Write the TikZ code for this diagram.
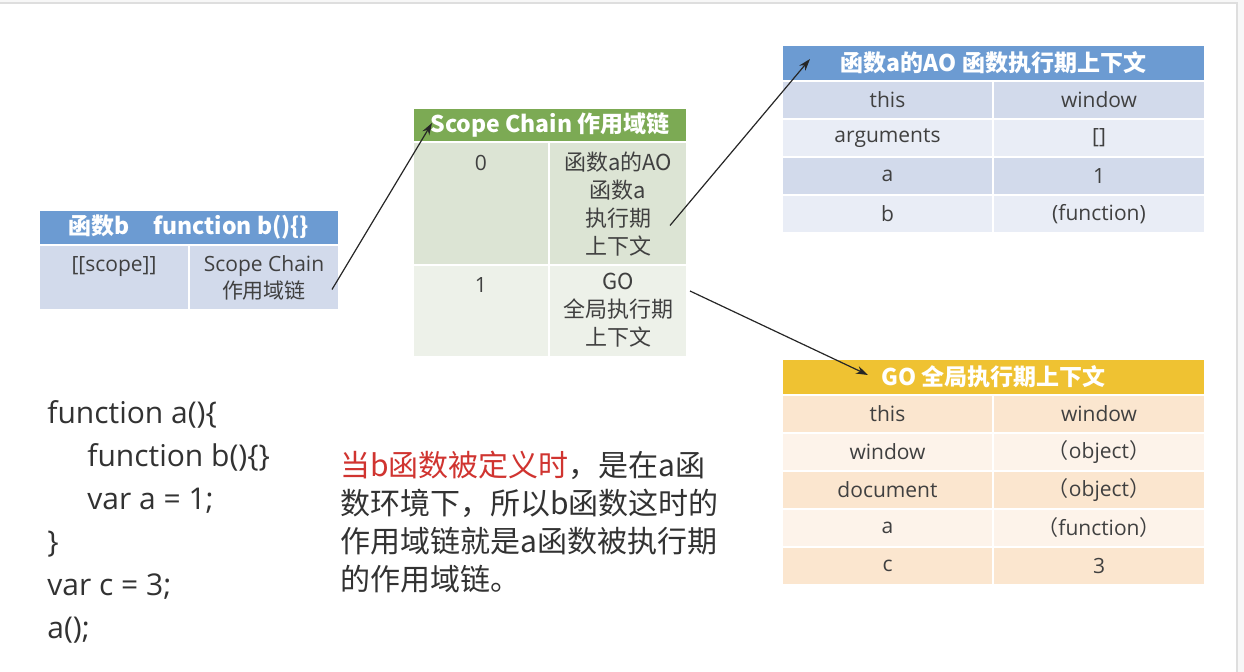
\documentclass[tikz,border=0pt]{standalone}
\usepackage{fontspec}
\setmainfont{Open Sans}
\newfontfamily\cjk{Noto Sans CJK SC}
\usetikzlibrary{arrows.meta, positioning, calc}
\definecolor{hdblue}{RGB}{108,155,210}
\definecolor{rowblue}{RGB}{210,218,235}
\definecolor{rowbluel}{RGB}{233,237,246}
\definecolor{hdgreen}{RGB}{124,170,84}
\definecolor{rowgreen}{RGB}{220,228,212}
\definecolor{rowgreenl}{RGB}{237,241,233}
\definecolor{hdgold}{RGB}{239,194,50}
\definecolor{rowgold}{RGB}{251,230,207}
\definecolor{rowgoldl}{RGB}{253,243,234}
\definecolor{txtgray}{RGB}{64,64,64}
\definecolor{codegray}{RGB}{50,50,50}
\definecolor{notered}{RGB}{208,52,48}
\definecolor{framegray}{RGB}{222,222,222}
\newcommand\fwpar[1]{{\cjk （}#1{\cjk ）}}

\begin{document}
\begin{tikzpicture}[x=0.5pt, y=-0.5pt,
    cell/.style={draw=white, line width=1pt, inner sep=0pt, anchor=north west,
                 text=txtgray, align=center, font=\fontsize{10.5}{13.5}\selectfont},
    hd/.style={cell, text=white, font=\cjk\bfseries\fontsize{11.5}{14}\selectfont},
    ctxt/.style={inner sep=0pt, anchor=north, align=center, text=txtgray,
                 font=\fontsize{10.5}{13.5}\selectfont},
    cjktxt/.style={ctxt, font=\cjk\fontsize{11}{14}\selectfont},
    code/.style={inner sep=0pt, anchor=base west, text=codegray, font=\fontsize{15}{18}\selectfont},
    arr/.style={-{Stealth[length=6pt,width=4pt]}, line width=0.6pt, black!85}]
    \useasboundingbox (0,0) rectangle (1244,672);
    \fill[black!3] (0,0) rectangle (1244,672);
    \fill[white, draw=framegray, line width=1pt] (-2,3) rectangle (1237,674);

    \node[hd, fill=hdblue, minimum width=150pt, minimum height=17.5pt] (bhd) at (38,209)
        {函数b\quad function b()\{\}};
    \node[cell, fill=rowblue, minimum width=75pt, minimum height=32.5pt] (bkey) at (38,244) {};
    \node[cell, fill=rowblue, minimum width=75pt, minimum height=32.5pt] (bval) at (188,244)
        {Scope Chain\\{\cjk 作用域链}};
    \node[ctxt] (bkeyt) at ($(bkey.north)+(0,12)$) {[[scope]]};

    \node[hd, fill=hdgreen, minimum width=137pt, minimum height=17pt] (schd) at (412,107)
        {Scope Chain 作用域链};
    \node[cell, fill=rowgreen, minimum width=68pt, minimum height=61.5pt] (s0k) at (412,141) {};
    \node[cell, fill=rowgreen, minimum width=69pt, minimum height=61.5pt] (s0v) at (548,141) {};
    \node[cell, fill=rowgreenl, minimum width=68pt, minimum height=46pt] (s1k) at (412,264) {};
    \node[cell, fill=rowgreenl, minimum width=69pt, minimum height=46pt] (s1v) at (548,264) {};
    \node[ctxt] (s0kt) at ($(s0k.north)+(0,14)$) {0};
    \node[cjktxt] (s0vt) at ($(s0v.north)+(0,11)$) {函数a的AO\\函数a\\执行期\\上下文};
    \node[ctxt] (s1kt) at ($(s1k.north)+(0,13)$) {1};
    \node[cjktxt] (s1vt) at ($(s1v.north)+(0,9)$) {GO\\全局执行期\\上下文};

    \node[hd, fill=hdblue, minimum width=211.5pt, minimum height=18pt] (aohd) at (781,44)
        {函数a的AO 函数执行期上下文};
    \foreach \k/\v/\c [count=\i] in {this/window/rowblue, arguments/{[]}/rowbluel,
                                     a/1/rowblue, b/(function)/rowbluel}
    {
        \node[cell, fill=\c, minimum width=105.5pt, minimum height=19pt] (aok\i) at (781,{80+(\i-1)*38}) {\k};
        \node[cell, fill=\c, minimum width=106pt, minimum height=19pt] (aov\i) at (992,{80+(\i-1)*38}) {\v};
    }

    \node[hd, fill=hdgold, minimum width=211.5pt, minimum height=18pt] (gohd) at (781,358)
        {GO 全局执行期上下文};
    \foreach \k/\v/\c [count=\i] in {this/window/rowgold, window/\fwpar{object}/rowgoldl,
                                     document/\fwpar{object}/rowgold, a/\fwpar{function}/rowgoldl,
                                     c/3/rowgold}
    {
        \node[cell, fill=\c, minimum width=105.5pt, minimum height=19pt] (gok\i) at (781,{394+(\i-1)*38}) {\k};
        \node[cell, fill=\c, minimum width=106pt, minimum height=19pt] (gov\i) at (992,{394+(\i-1)*38}) {\v};
    }

    \foreach \ln/\ind [count=\i] in {{function a()\{}/0, {function b()\{\}}/40, {var a = 1;}/40,
                                     \}/0, {var c = 3;}/0, {a();}/0}
        \node[code] (code\i) at ({47+\ind},{424+(\i-1)*43}) {\ln};

    \node[anchor=north west, inner sep=0pt, align=left, text=codegray,
          font=\cjk\fontsize{15}{19}\selectfont] (note) at (340,451)
        {\textcolor{notered}{当b函数被定义时}，是在a函\\数环境下，所以b函数这时的\\作用域链就是a函数被执行期\\的作用域链。};

    \draw[arr] ([xshift=-4pt,yshift=-6pt]bval.east) -- ([xshift=10pt,yshift=1pt]schd.west);
    \draw[arr] ([xshift=-9pt,yshift=-11pt]s0v.east) -- ([xshift=14.5pt,yshift=2pt]aohd.west);
    \draw[arr] ([xshift=1pt,yshift=10pt]s1v.east) -- ([xshift=43.5pt,yshift=1pt]gohd.west);
\end{tikzpicture}
\end{document}
